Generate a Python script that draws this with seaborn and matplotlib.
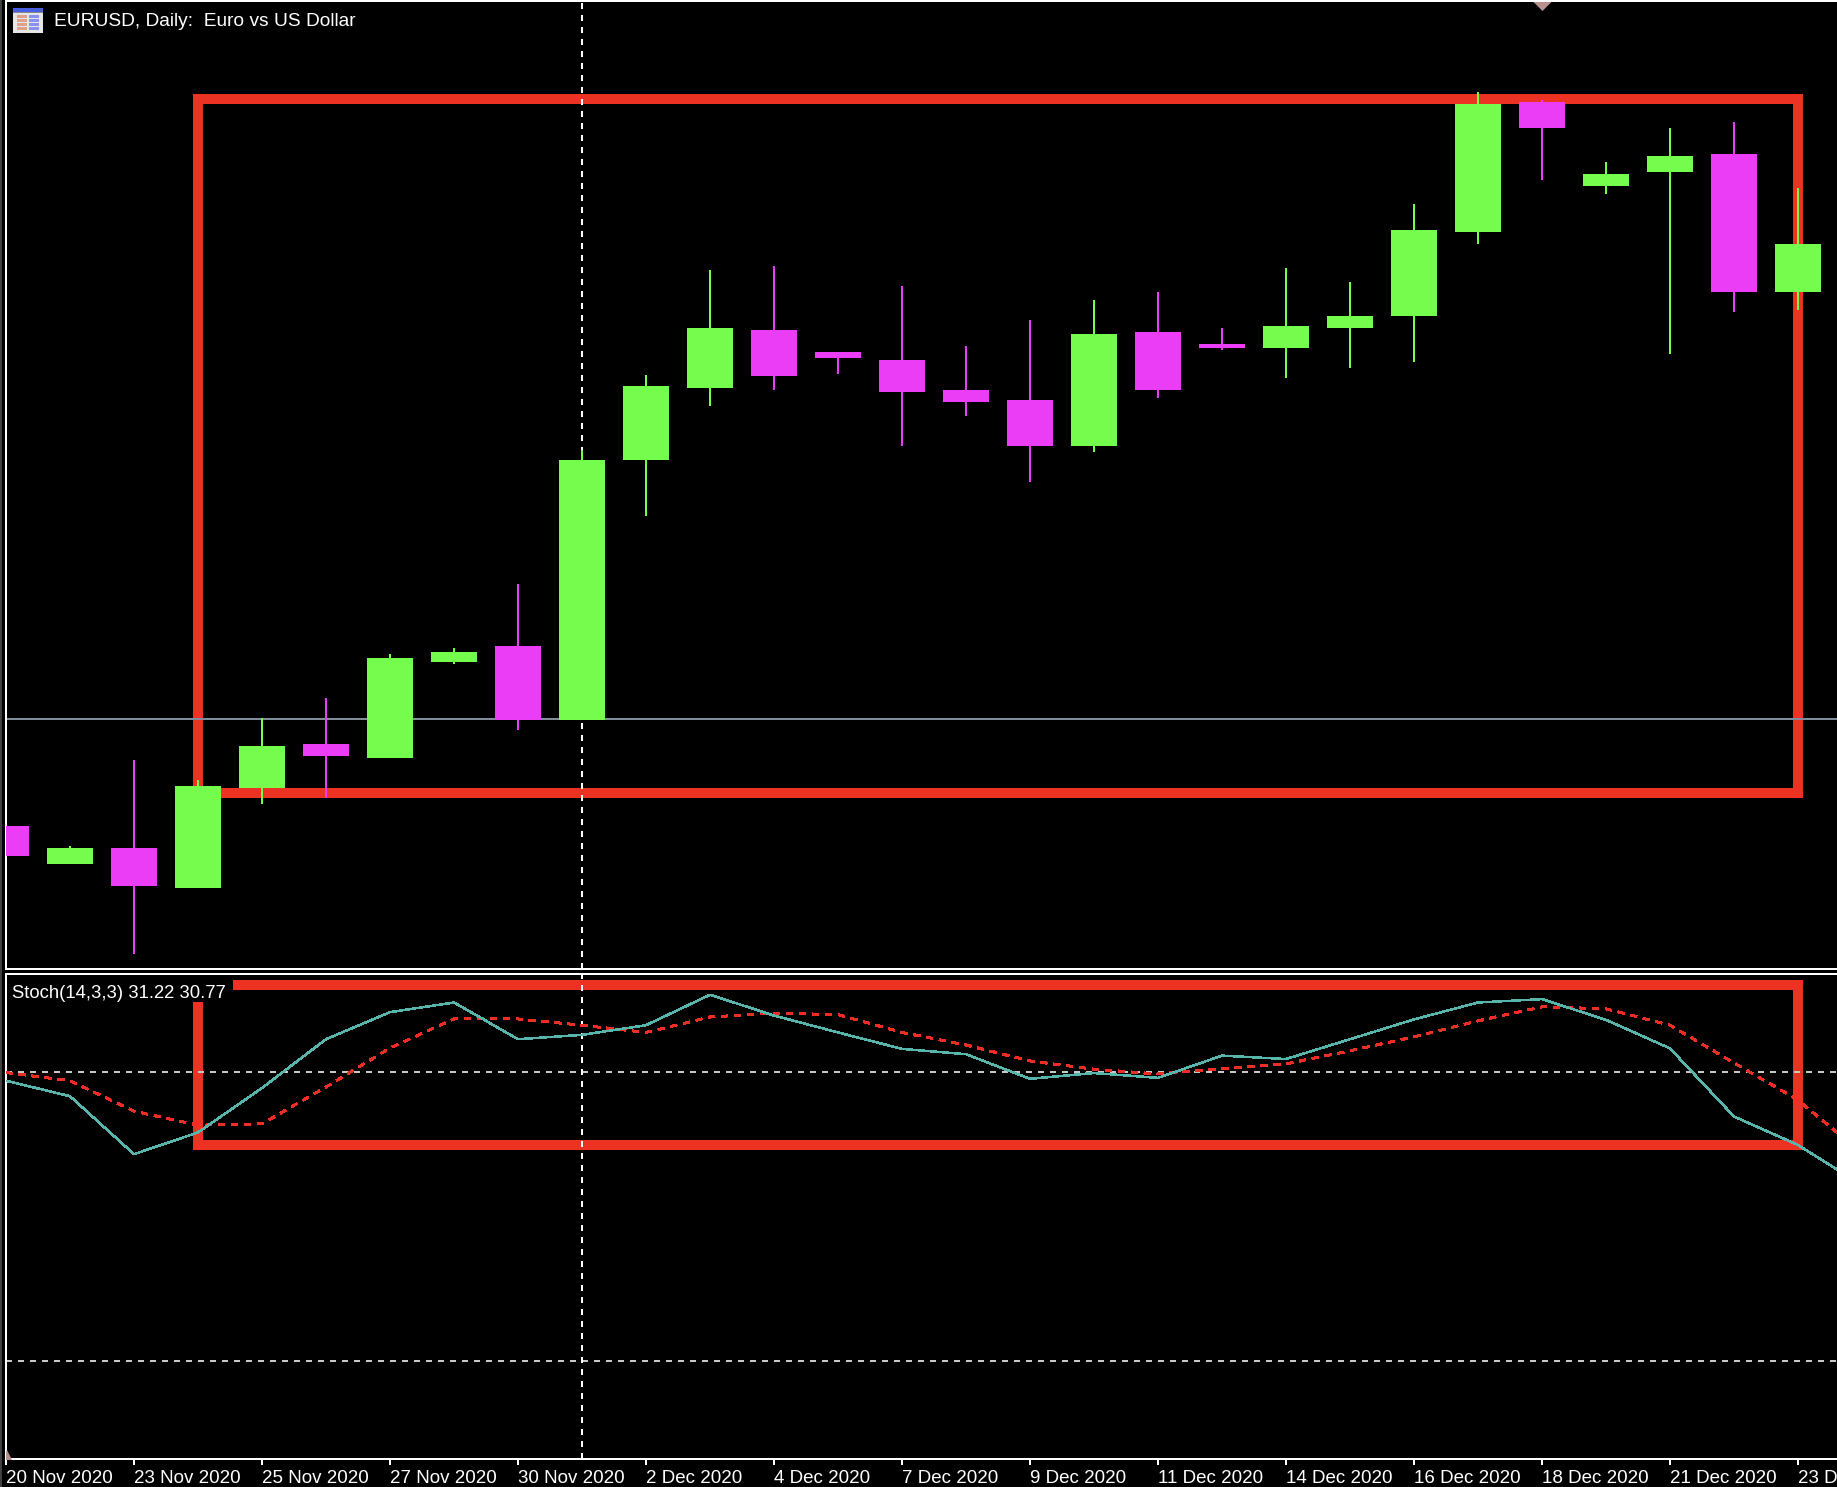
import pandas as pd
import matplotlib
matplotlib.use("Agg")
import matplotlib.pyplot as plt
from matplotlib.patches import Rectangle
from matplotlib.transforms import Affine2D
import seaborn as sns

W, H = 1837, 1487
BAR_PX = 64

# candles, chart has no price axis so heights are in chart units
opens = [142, 104, 120, 80, 180, 224, 210, 306, 322, 248, 508, 580, 638, 616, 608,
         578, 568, 522, 636, 624, 620, 640, 652, 736, 866, 782, 796, 814, 676]
highs = [142, 122, 208, 188, 250, 270, 314, 320, 384, 518, 593, 698, 702, 616, 682,
         622, 648, 668, 676, 640, 700, 686, 764, 876, 868, 806, 840, 846, 780]
lows = [112, 104, 14, 80, 164, 170, 210, 304, 238, 248, 452, 562, 578, 594, 522,
        552, 486, 516, 570, 618, 590, 600, 606, 724, 788, 774, 614, 656, 658]
closes = [112, 120, 82, 182, 222, 212, 310, 316, 248, 508, 582, 640, 592, 610, 576,
          566, 522, 634, 578, 620, 642, 652, 738, 864, 840, 794, 812, 676, 724]

stoch_main = [78.1, 74.9, 62.9, 67.4, 76.6, 86.7, 92.3, 94.3, 86.7, 87.6, 89.6, 95.9, 91.6, 88.1, 84.7,
              83.6, 78.5, 79.7, 78.7, 83.3, 82.6, 86.7, 90.8, 94.3, 95.0, 90.7, 84.8, 70.7, 64.8, 56.5]
stoch_signal = [79.8, 78.1, 71.8, 68.9, 69.2, 76.8, 84.9, 90.9, 90.9, 89.6, 88.1, 91.3, 92.1, 91.8, 88.1,
                85.5, 82.2, 80.5, 79.5, 80.6, 81.6, 84.3, 87.2, 90.5, 93.4, 93.0, 89.6, 81.8, 74.1, 63.1]

tick_bars = list(range(0, 29, 2))
tick_labels = ["20 Nov 2020", "23 Nov 2020", "25 Nov 2020", "27 Nov 2020", "30 Nov 2020",
               "2 Dec 2020", "4 Dec 2020", "7 Dec 2020", "9 Dec 2020", "11 Dec 2020",
               "14 Dec 2020", "16 Dec 2020", "18 Dec 2020", "21 Dec 2020", "23 Dec 2020"]

GREEN = "#76FC4C"
MAGENTA = "#EA3DF5"
RED = "#EB3223"
TEAL = "#58B5AC"
SIGNAL = "#EE2E24"
FONT = "Liberation Sans"


def pt(px):
    return px * 72 / 100


sns.set_theme(style="dark", rc={
    "figure.facecolor": "black",
    "axes.facecolor": "black",
    "axes.edgecolor": "white",
    "axes.linewidth": pt(2),
    "lines.scale_dashes": False,
    "xtick.color": "white",
    "font.family": FONT,
})

fig = plt.figure(figsize=(W / 100, H / 100), dpi=100)
ax1 = fig.add_axes([6 / W, 1 - 969 / H, (W - 6) / W, 968 / H])
ax2 = fig.add_axes([6 / W, 1 - 1459 / H, (W - 6) / W, 485 / H])
pixels = Affine2D().scale(1, -1).translate(0, H)

xmax = (W - 6) / BAR_PX
ax1.set_xlim(0, xmax)
ax1.set_ylim(-1, 967)
ax2.set_xlim(0, xmax)
ax2.set_ylim(-0.2, 100.2)
dash = (0, (pt(6), pt(6)))

# --- main pane ---
ax1.add_patch(Rectangle((3, 175), 25, 694, fill=False, ec=RED, lw=pt(10), joinstyle="miter", zorder=1))
ax1.axhline(249, color="#7F8C99", lw=pt(2), zorder=1.5)
ax1.axvline(9, color="white", lw=pt(2), linestyle=dash, zorder=2)
for i in range(len(opens)):
    col = GREEN if closes[i] > opens[i] else MAGENTA
    ax1.vlines(i, lows[i], highs[i], color=col, lw=pt(2), zorder=3)
    ax1.bar(i, abs(closes[i] - opens[i]), bottom=min(opens[i], closes[i]), width=46 / BAR_PX,
            color=col, linewidth=0, zorder=3)
# flat arrow at the top edge
ax1.plot(24, 962.5, marker=[(-1, 0.5), (1, 0.5), (0, -0.5)], ms=pt(18), color="#B89090", mew=0, zorder=4)

ax1.text(54 / W, 1 - 22 / H, "EURUSD, Daily:  Euro vs US Dollar", transform=fig.transFigure,
         color="white", fontsize=13.8, va="center", ha="left")

# little table icon next to the title
ax1.add_patch(Rectangle((13, 8), 30, 25, transform=pixels, color="#E6E6E6", lw=0, clip_on=False, zorder=5))
ax1.add_patch(Rectangle((13, 8), 30, 3.5, transform=pixels, color="#4A5FE0", lw=0, clip_on=False, zorder=6))
ax1.add_patch(Rectangle((13, 11.5), 30, 1.5, transform=pixels, color="#8A8A8A", lw=0, clip_on=False, zorder=6))
for top in [15, 19, 23, 27]:
    ax1.add_patch(Rectangle((17, top), 10, 3, transform=pixels, color="#E0A090", lw=0, clip_on=False, zorder=6))
    ax1.add_patch(Rectangle((29, top), 10, 3, transform=pixels, color="#8890F0", lw=0, clip_on=False, zorder=6))
fig.add_artist(Rectangle((0, 0), 2 / W, 1, transform=fig.transFigure, color="#404040", lw=0))

# --- stochastic pane ---
stoch = pd.DataFrame({"bar": range(len(stoch_main)), "main": stoch_main, "signal": stoch_signal})
ax2.add_patch(Rectangle((3, 64.8), 25, 33.1, fill=False, ec=RED, lw=pt(10), joinstyle="miter", zorder=1))
ax2.add_patch(Rectangle((7, 975), 226, 27, transform=pixels, color="black", lw=0, zorder=1.2))
for level in [80, 20]:
    ax2.axhline(level, color="#C8C8C8", lw=pt(2), linestyle=dash, zorder=2)
ax2.axvline(9, color="white", lw=pt(2), linestyle=dash, zorder=2)
sns.lineplot(data=stoch, x="bar", y="signal", color=SIGNAL, lw=pt(1.5), linestyle=dash, ax=ax2,
             errorbar=None, antialiased=False, zorder=3)
sns.lineplot(data=stoch, x="bar", y="main", color=TEAL, lw=pt(1.5), ax=ax2,
             errorbar=None, antialiased=False, zorder=4)
ax2.plot(1 / BAR_PX, 0, marker="^", ms=pt(16), color="#B89090", mew=0, zorder=4)
ax2.text(12 / W, 1 - 993 / H, "Stoch(14,3,3) 31.22 30.77", transform=fig.transFigure,
         color="white", fontsize=13.3, va="center", ha="left", zorder=5)

# --- axes furniture ---
for ax in (ax1, ax2):
    ax.spines["right"].set_visible(False)
    ax.grid(False)
    ax.set_xlabel("")
    ax.set_ylabel("")
    ax.set_yticks([])
ax1.set_xticks([])
ax2.set_xticks(tick_bars)
ax2.set_xticklabels(tick_labels, ha="left", fontsize=13.5)
ax2.tick_params(axis="x", length=pt(6), width=pt(2), pad=pt(5), color="white", bottom=True)

fig.savefig("out.png", dpi=100, facecolor="black")
